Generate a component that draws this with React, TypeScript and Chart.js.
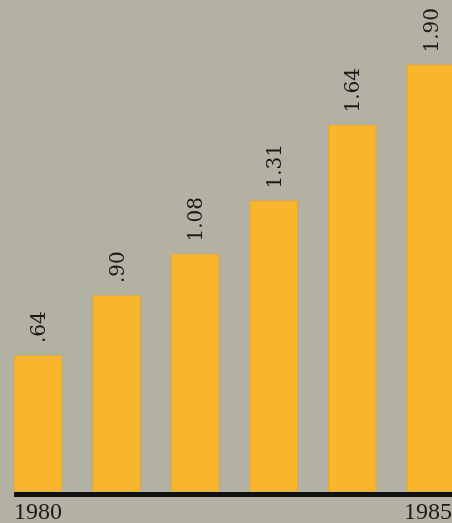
import React, { useEffect, useRef } from "react";
import { Chart, registerables } from "chart.js";

Chart.register(...registerables);

const years = [1980, 1981, 1982, 1983, 1984, 1985];
const values = [0.64, 0.9, 1.08, 1.31, 1.64, 1.9];
const valueLabels = [".64", ".90", "1.08", "1.31", "1.64", "1.90"];
const axisLabels = ["1980", "1985"];

const BG = "#b3b1a4";
const BAR = "#f8b62c";

export default function App() {
  const ref = useRef<HTMLCanvasElement | null>(null);

  useEffect(() => {
    if (!ref.current) return;
    const decor = {
      id: "decor",
      beforeDraw(chart: any) {
        const ctx = chart.ctx;
        ctx.save();
        ctx.fillStyle = BG;
        ctx.fillRect(0, 0, chart.width, chart.height);
        ctx.restore();
      },
      afterDatasetsDraw(chart: any) {
        const ctx = chart.ctx;
        const meta = chart.getDatasetMeta(0);
        const bars = meta.data;
        const area = chart.chartArea;
        ctx.save();
        const first = bars[0];
        const left = first.x - first.width / 2;
        ctx.fillStyle = "#111";
        ctx.fillRect(left, area.bottom + 1, chart.width - left, 5);
        ctx.fillStyle = "#1a1a1a";
        ctx.font = '20px "DejaVu Serif"';
        ctx.textAlign = "left";
        ctx.textBaseline = "alphabetic";
        bars.forEach((b: any, i: number) => {
          ctx.save();
          ctx.translate(b.x + 7, b.y - 12);
          ctx.rotate(-Math.PI / 2);
          ctx.fillText(valueLabels[i], 0, 0);
          ctx.restore();
        });
        ctx.font = '24px "Liberation Serif"';
        ctx.textBaseline = "alphabetic";
        ctx.textAlign = "left";
        ctx.fillText(axisLabels[0], left, area.bottom + 28);
        ctx.textAlign = "right";
        ctx.fillText(axisLabels[1], chart.width, area.bottom + 28);
        ctx.restore();
      },
    };

    const chart = new Chart(ref.current, {
      type: "bar",
      data: {
        datasets: [
          {
            data: years.map((y, i) => ({ x: y, y: values[i] })),
            backgroundColor: BAR,
            borderColor: "#e9a623",
            borderWidth: 1,
            borderSkipped: "bottom",
            barThickness: 48,
          },
        ],
      },
      options: {
        animation: false,
        responsive: false,
        maintainAspectRatio: false,
        layout: { padding: { left: 0, right: 0, top: 0, bottom: 32 } },
        plugins: {
          legend: { display: false },
          tooltip: { enabled: false },
        },
        scales: {
          x: {
            type: "linear",
            offset: false,
            grid: { offset: false },
            min: 1979.515,
            max: 1985.27,
            display: false,
          },
          y: {
            min: 0.05,
            max: 2.18,
            display: false,
          },
        },
      },
      plugins: [decor],
    });
    return () => chart.destroy();
  }, []);

  return (
    <div
      style={{
        position: "fixed",
        left: 0,
        top: 0,
        width: 452,
        height: 523,
        overflow: "hidden",
        background: BG,
      }}
    >
      <canvas ref={ref} width={452} height={523} style={{ display: "block" }} />
    </div>
  );
}
